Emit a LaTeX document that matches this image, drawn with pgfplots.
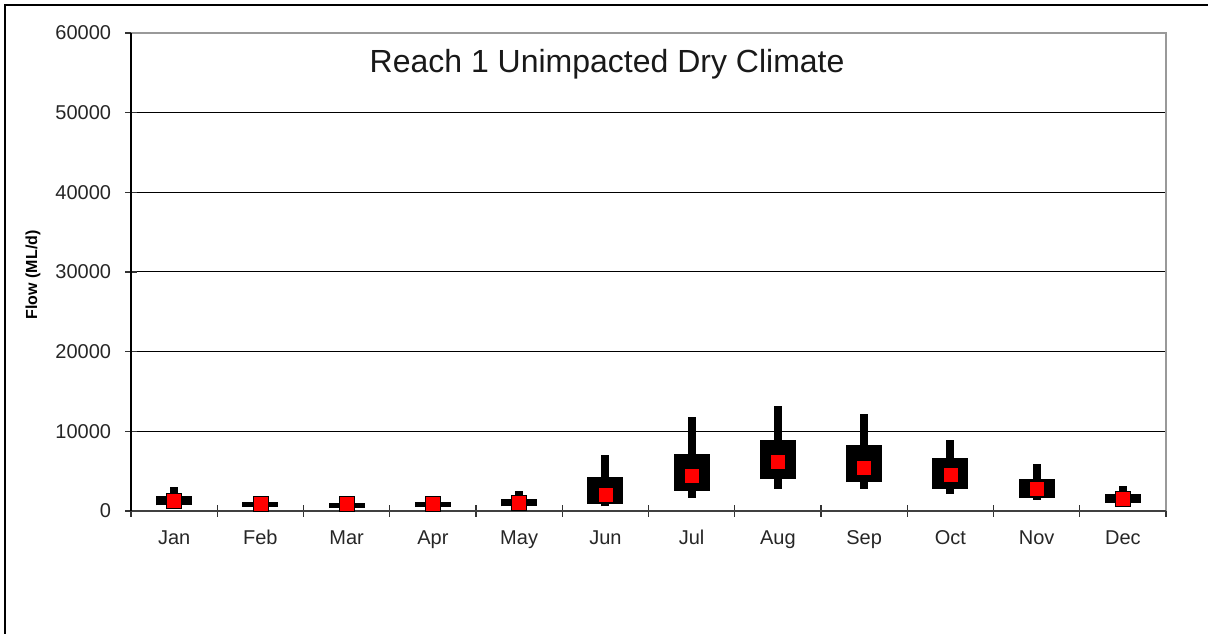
\documentclass[border=0pt]{standalone}
\usepackage{fontspec}
\setmainfont{Liberation Sans}
\usepackage{pgfplots}
\pgfplotsset{compat=1.18}
\usepackage{pgfplotstable}

\pgfplotstableread{
x  lo    q1    med   q3    hi
0  650   720   1250  1890  2950
1  550   550   930   1180  1180
2  430   430   880   1000  1000
3  470   470   880   1180  1180
4  500   590   1010  1560  2480
5  590   880   2020  4280  6980
6  1690  2520  4460  7140  11840
7  2820  3990  6220  8940  13150
8  2820  3610  5420  8270  12180
9  2190  2820  4580  6680  8940
10 1390  1690  2820  3990  5840
11 900   1060  1560  2140  3110
}\flowdata

\begin{document}
\begin{tikzpicture}
\useasboundingbox (0pt,0pt) rectangle (906pt,475.5pt);
\draw[line width=1pt, black] (3.75pt,0pt) -- (3.75pt,471.75pt) -- (906pt,471.75pt);
\begin{axis}[
  at={(98.25pt,92.25pt)}, anchor=south west,
  scale only axis, width=776.25pt, height=358.5pt,
  xmin=-0.5, xmax=11.5, ymin=0, ymax=60000,
  clip=false,
  axis line style={draw=none},
  ytick={0,10000,...,60000},
  xtick={-0.5,0.5,...,11.5},
  x tick label as interval,
  xticklabels={Jan,Feb,Mar,Apr,May,Jun,Jul,Aug,Sep,Oct,Nov,Dec},
  xtick pos=bottom, ytick pos=left,
  tick align=center,
  major tick length=8.5pt,
  major tick style={black!80, line width=0.9pt},
  ymajorgrids,
  major grid style={black, line width=0.75pt},
  scaled y ticks=false,
  /pgf/number format/1000 sep={},
  /pgf/number format/assume math mode=true,
  tick label style={font=\fontsize{15}{18}\selectfont, text=black!85},
  yticklabel style={anchor=east, inner sep=0pt, xshift=-10.5pt},
  xticklabel style={anchor=base, inner sep=0pt, yshift=-21.25pt},
]
\addplot[black, line width=6pt, line cap=butt, -, forget plot,
  quiver={u=0, v=\thisrow{hi}-\thisrow{lo}}]
  table[x=x, y=lo] {\flowdata};
\addplot[black, line width=27pt, line cap=butt, -, forget plot,
  quiver={u=0, v=\thisrow{q3}-\thisrow{q1}}]
  table[x=x, y=q1] {\flowdata};
\addplot[only marks, mark=square*, mark size=5.6pt,
  mark options={fill=red, draw=none}]
  table[x=x, y=med] {\flowdata};
\draw[gray!80, line width=1.5pt] (rel axis cs:0,1) -- (rel axis cs:1,1) -- (rel axis cs:1,0);
\draw[black!75, line width=1.5pt] (rel axis cs:0,0) -- (rel axis cs:1,0);
\draw[black, line width=1.5pt] (rel axis cs:0,0) -- (rel axis cs:0,1);
\node[font=\fontsize{24}{28}\selectfont, text=black!90] at (rel axis cs:0.46,0.935) {Reach 1 Unimpacted Dry Climate};
\node[rotate=90, font=\bfseries\fontsize{12}{14}\selectfont] at (rel axis cs:-0.0947,0.494) {Flow (ML/d)};
\end{axis}
\end{tikzpicture}
\end{document}
